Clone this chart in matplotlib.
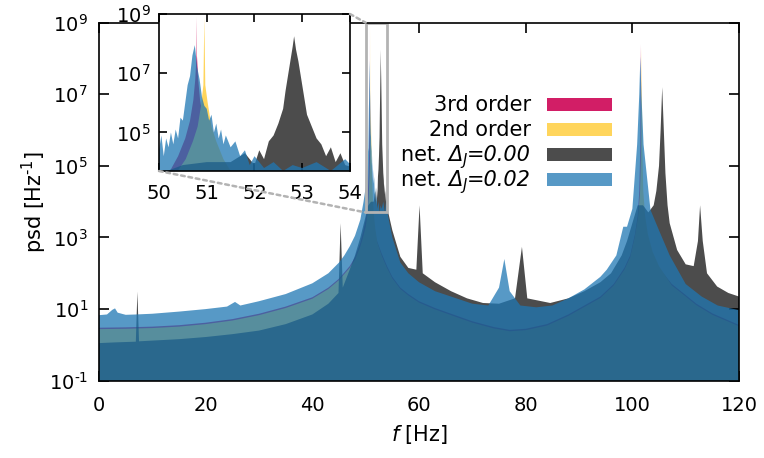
import numpy as np
import matplotlib
matplotlib.use('Agg')
import matplotlib.pyplot as plt
from matplotlib.patches import Rectangle, ConnectionPatch
from matplotlib.ticker import NullLocator, FuncFormatter

plt.rcParams['font.family'] = 'DejaVu Sans'
plt.rcParams['font.size'] = 14
plt.rcParams['mathtext.fontset'] = 'dejavusans'
plt.rcParams['axes.unicode_minus'] = False

HY = '\u2010'  # short hyphen, as in the exponents of the original

# --- values (frequency in Hz, log10 of psd) ---
f_third = [0, 5, 10, 15, 20, 25, 30, 35, 40, 43, 45, 47, 48, 49, 49.5, 50,
           50.23, 50.4, 50.55, 50.65, 50.72, 50.76, 50.785, 50.79, 50.795, 50.82, 50.86, 50.93,
           51.03, 51.18, 51.35,
           51.6, 52, 53, 54, 55, 56.5, 58, 60, 63, 66, 70, 74, 77, 80, 84, 88, 91, 94, 96.5, 98.5,
           99.6, 100.5, 101, 101.3, 101.5, 101.6, 101.7, 101.9, 102.2, 102.7, 103.6, 105, 107.4,
           109.6, 112, 115, 120]
lg_third = [0.48, 0.49, 0.51, 0.55, 0.62, 0.72, 0.87, 1.07, 1.33, 1.6, 1.85, 2.2, 2.45, 2.85, 3.15, 3.5,
            3.7, 4.2, 4.8, 5.4, 6.1, 6.8, 7.6, 8.9, 7.6, 6.8, 6.1, 5.4,
            4.8, 4.2, 3.7,
            3.3, 2.95, 2.55, 2.2, 1.9, 1.6, 1.42, 1.22, 1.03, 0.87, 0.66, 0.5, 0.42, 0.45, 0.58, 0.85,
            1.1, 1.35, 1.7, 2.15, 2.5, 3.1, 3.6, 4.3, 5.6, 8.4, 5.6, 4.3, 3.6, 3.1, 2.6, 2.15, 1.7,
            1.44, 1.15, 0.88, 0.556]

f_second = [0, 5, 10, 15, 20, 25, 30, 35, 40, 43, 45, 47, 48, 49, 49.5, 50,
            50.39, 50.56, 50.71, 50.81, 50.88, 50.93, 50.95, 50.97, 51.02, 51.1, 51.2, 51.35, 51.5,
            51.8, 52.2, 53, 54, 55, 56.5, 58, 60, 63, 66, 70, 74, 77, 80, 84, 88, 91, 94, 96.5, 98.5,
            99.6, 100.5, 101.1, 101.45, 101.65, 101.75, 101.85, 102.05, 102.4, 102.9, 103.8, 105,
            107.4, 109.6, 112, 115, 120]
lg_second = [0.44, 0.45, 0.47, 0.51, 0.58, 0.68, 0.83, 1.03, 1.29, 1.56, 1.81, 2.15, 2.38, 2.75, 3.0, 3.3,
             3.7, 4.1, 4.7, 5.2, 5.9, 6.6, 8.9, 6.6, 6.0, 5.2, 4.7, 4.1, 3.7,
             3.25, 2.85, 2.5, 2.15, 1.86, 1.56, 1.38, 1.18, 0.99, 0.83, 0.62, 0.46, 0.38, 0.41, 0.54,
             0.81, 1.06, 1.31, 1.66, 2.1, 2.45, 3.05, 3.6, 4.3, 5.6, 8.3, 5.6, 4.3, 3.6, 3.1, 2.6,
             2.2, 1.66, 1.4, 1.11, 0.84, 0.52]

f_net0 = [0, 3, 6.9, 7.2, 7.5, 10, 15, 20, 25, 30, 35, 40, 43,
          44.9, 45.3, 45.7, 47, 48, 49, 50, 50.5, 51, 51.5, 51.8,
          52.0, 52.1, 52.2, 52.3, 52.4, 52.5, 52.6, 52.65, 52.7, 52.75, 52.8, 52.83, 52.87, 52.92,
          52.97, 53.0, 53.05, 53.1, 53.2, 53.3, 53.4, 53.5, 53.6, 53.7, 53.8, 53.9, 54.0,
          55, 56.5, 58, 59.5, 60.1, 60.7, 63, 66, 69, 72, 75, 78, 79.3, 80.3, 84.6, 88, 91, 94,
          96, 98, 99, 100, 101, 102, 103, 104, 104.5,
          105.0, 105.3, 105.6, 105.9, 106.2, 106.6, 107, 108.4, 110, 111.5, 112.3, 112.7, 113.2,
          114, 115.9, 118, 120]
lg_net0 = [0.05, 0.07, 0.09, 1.49, 0.1, 0.12, 0.16, 0.22, 0.3, 0.4, 0.58, 0.85, 1.15,
           1.45, 3.4, 1.6, 2.1, 2.5, 3.0, 3.6, 3.9, 4.0, 4.0, 4.3,
           3.9, 4.4, 4.1, 4.7, 4.9, 5.3, 5.8, 6.4, 6.9, 7.4, 7.9, 8.25, 7.8, 7.4,
           6.9, 6.6, 6.1, 5.6, 5.2, 4.8, 4.6, 4.2, 4.5, 4.0, 4.3, 3.9, 3.85,
           3.2, 2.46, 2.15, 2.1, 3.9, 2.0, 1.75, 1.5, 1.3, 1.17, 1.15, 1.3, 2.74, 1.3, 1.17, 1.3,
           1.5, 1.75, 2.0, 2.5, 2.9, 3.4, 3.9, 3.9, 3.7, 3.9, 4.3,
           5.0, 6.0, 7.2, 6.0, 4.8, 3.9, 3.4, 2.65, 2.25, 2.2, 2.9, 3.9, 2.9,
           2.0, 1.63, 1.45, 1.35]

f_net2 = [0, 1.5, 2.5, 3, 3.5, 5, 7, 10, 15, 20, 24, 25.5, 26.5, 30, 35, 40, 43, 45, 46, 47,
          48, 49, 49.6,
          50.0, 50.05, 50.1, 50.15, 50.2, 50.25, 50.3, 50.35, 50.4, 50.45, 50.5, 50.55, 50.6,
          50.65, 50.7, 50.75, 50.8, 50.85, 50.9, 50.95, 51.0, 51.05, 51.1, 51.15, 51.2, 51.25,
          51.3, 51.35, 51.4, 51.5, 51.6, 51.7, 51.8, 51.9, 52.0,
          52.2, 52.4, 52.6, 52.8, 53.0, 53.3, 53.6, 53.9, 54.2,
          55, 56.5, 58, 60, 63, 66, 70, 73, 75, 76, 77, 79, 82, 85, 88, 91, 94, 95.2, 97, 98.3,
          99, 100, 100.9, 101.3, 101.5, 101.7, 102.1, 103.4, 105, 107, 110, 113, 116, 120]
lg_net2 = [0.83, 0.85, 0.98, 1.02, 0.9, 0.84, 0.85, 0.87, 0.93, 1.0, 1.07, 1.2, 1.1, 1.22, 1.42,
           1.72, 2.0, 2.3, 2.5, 2.75, 3.05, 3.5, 4.0,
           4.4, 4.9, 4.2, 4.8, 4.5, 5.0, 4.6, 5.1, 4.8, 5.5, 5.4, 6.0, 6.6,
           6.9, 7.6, 7.95, 7.2, 6.8, 6.2, 5.9, 5.8, 5.4, 5.6, 5.0, 5.3, 4.8,
           5.1, 4.6, 4.9, 4.5, 4.7, 4.2, 4.4, 3.9, 4.2,
           3.8, 4.0, 3.7, 3.9, 3.8, 4.0, 3.7, 4.1, 3.6,
           3.0, 2.3, 2.0, 1.75, 1.5, 1.35, 1.15, 1.1, 1.6, 2.4, 1.5, 1.1, 1.05, 1.1, 1.3, 1.55,
           1.9, 2.1, 2.5, 3.3, 3.3, 3.8, 5.6, 7.0, 8.05, 7.0, 5.6, 3.77, 3.2, 2.5, 1.7, 1.35,
           1.1, 0.97]

# legend rows: pieces of (text, style, size, shift in px)
labels = [[('3rd order', 'normal', 15, 0)],
          [('2nd order', 'normal', 15, 0)],
          [('net. ', 'normal', 15, 0), ('\u0394', 'italic', 15, 0), ('J', 'italic', 10.5, -4),
           ('=0.00', 'italic', 15, 0)],
          [('net. ', 'normal', 15, 0), ('\u0394', 'italic', 15, 0), ('J', 'italic', 10.5, -4),
           ('=0.02', 'italic', 15, 0)]]

c_third = '#d21e66'
c_second = '#ffd55c'
c_net0 = 'black'
c_net2 = '#1f77b4'
colors = [c_third, c_second, c_net0, c_net2]
alphas = [1.0, 1.0, 0.7, 0.75]

W, H = 764, 458


def pow10(y, pos):
    e = int(round(np.log10(y)))
    return r'$\mathdefault{10^{%s}}$' % str(e).replace('-', HY)


def draw(ax):
    series = [(f_third, lg_third), (f_second, lg_second),
              (f_net0, lg_net0), (f_net2, lg_net2)]
    for i, (f, lg) in enumerate(series):
        ax.fill_between(f, 1e-3, 10 ** np.array(lg), facecolor=colors[i], alpha=alphas[i],
                        linewidth=0, zorder=1 + i)
    ax.set_yscale('log')
    ax.yaxis.set_minor_locator(NullLocator())
    ax.yaxis.set_major_formatter(FuncFormatter(pow10))
    for s in ax.spines.values():
        s.set_linewidth(1.2)
        s.set_zorder(10)


fig = plt.figure(figsize=(W / 100, H / 100), dpi=100)
ax = fig.add_axes([0.1296, 0.1688, 0.8377, 0.7817])
draw(ax)
ax.set_xlim(0, 120)
ax.set_ylim(1e-1, 1e9)
ax.set_xticks([0, 20, 40, 60, 80, 100, 120])
ax.set_yticks([1e-1, 1e1, 1e3, 1e5, 1e7, 1e9])
ax.tick_params(direction='in', top=True, right=True, length=7, width=1.2)
ax.tick_params(axis='x', pad=11)
ax.tick_params(axis='y', pad=8)
ax.set_xlabel('$f$ [Hz]', fontsize=15, labelpad=6)
ax.set_ylabel('psd [Hz$^{%s1}$]' % HY, fontsize=15, labelpad=0)

# zoom box
ax.add_patch(Rectangle((50, 5e3), 4, 1e9 - 5e3, fill=False, edgecolor='#b3b3b3',
                       linewidth=2, zorder=8))

# legend, text right-aligned left of the swatches
renderer = fig.canvas.get_renderer()
for i, pieces in enumerate(labels):
    base = 111 + 24.9 * i
    texts = []
    for s, style, size, dy in pieces:
        t = fig.text(0, 1 - (base - dy) / H, s, fontstyle=style, fontsize=size,
                     ha='left', va='baseline')
        texts.append(t)
    widths = [t.get_window_extent(renderer).width for t in texts]
    x = 531 - sum(widths)
    for t, w in zip(texts, widths):
        t.set_x(x / W)
        x += w
    fig.add_artist(Rectangle((547 / W, 1 - base / H), 65 / W, 13 / H, facecolor=colors[i],
                             alpha=alphas[i], edgecolor='none', transform=fig.transFigure))

# inset
axins = fig.add_axes([0.2081, 0.6266, 0.25, 0.3428])
draw(axins)
axins.set_xlim(50, 54)
axins.set_ylim(5e3, 1e9)
axins.set_xticks([50, 51, 52, 53, 54])
axins.set_yticks([1e5, 1e7, 1e9])
axins.tick_params(direction='in', top=True, right=True, length=6, width=1.2)
axins.tick_params(axis='x', pad=9)
axins.tick_params(axis='y', pad=6)

for xa, ya, xb, yb in [(54, 1e9, 50, 1e9), (50, 5e3, 50, 5e3)]:
    con = ConnectionPatch(xyA=(xa, ya), coordsA=axins.transData, xyB=(xb, yb),
                          coordsB=ax.transData, color='#b3b3b3', linestyle=(0, (1.5, 1.5)),
                          linewidth=1.8, zorder=5)
    fig.add_artist(con)

fig.savefig('out.png', dpi=100)
